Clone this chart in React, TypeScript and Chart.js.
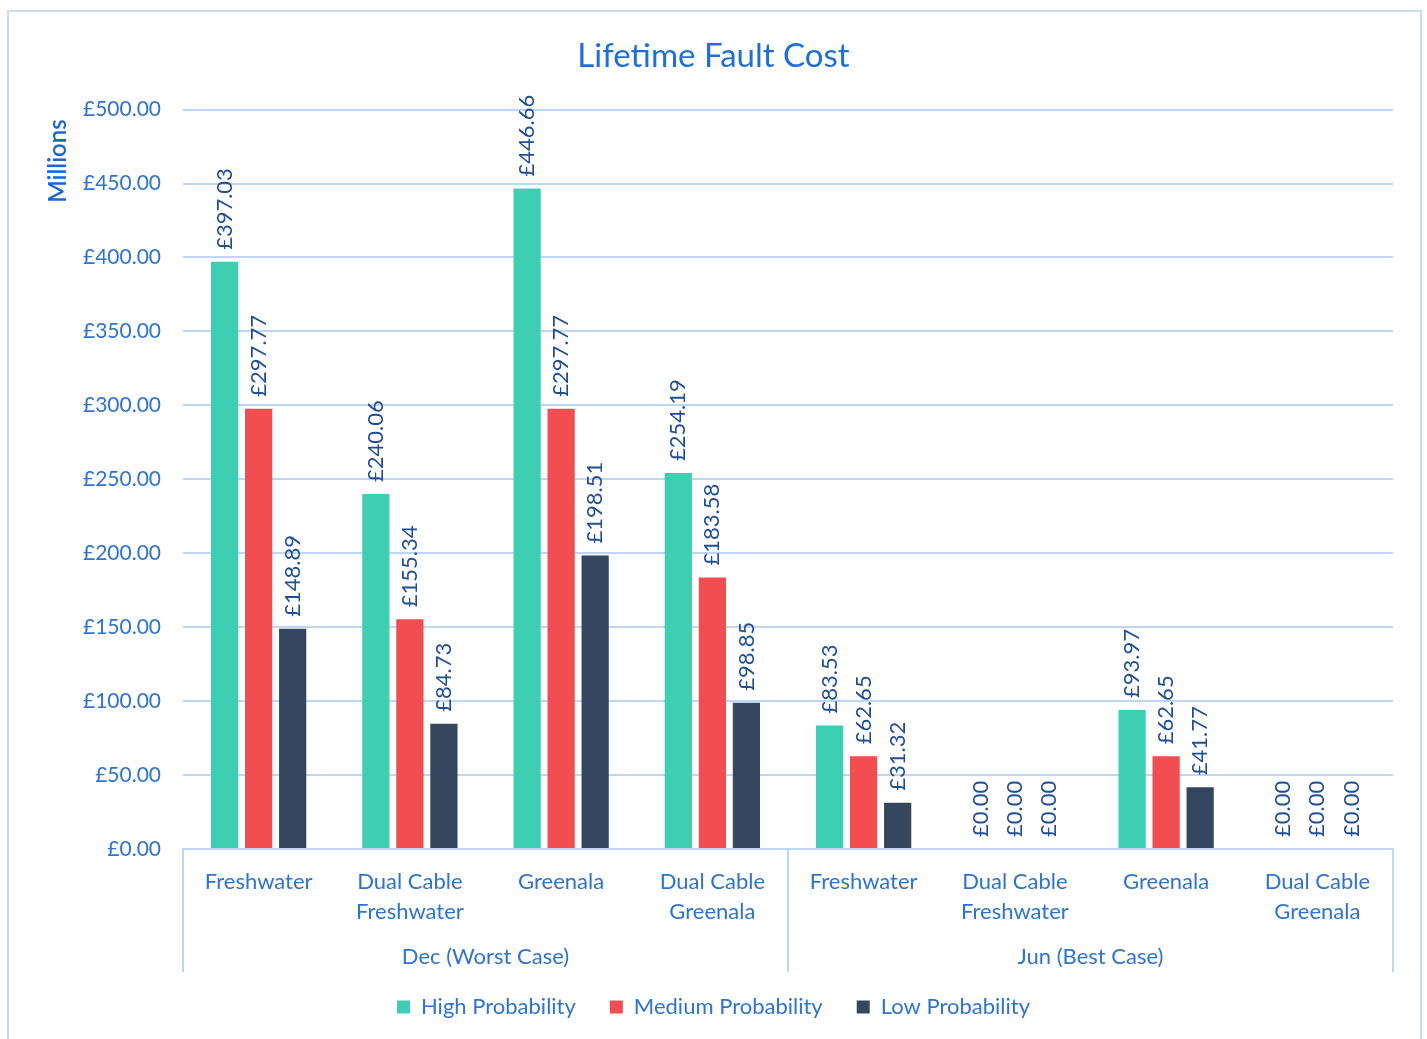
import React, { useEffect, useRef } from "react";
import { Chart, registerables } from "chart.js";

Chart.register(...registerables);

const categories: string[][] = [
  ["Freshwater"],
  ["Dual Cable", "Freshwater"],
  ["Greenala"],
  ["Dual Cable", "Greenala"],
  ["Freshwater"],
  ["Dual Cable", "Freshwater"],
  ["Greenala"],
  ["Dual Cable", "Greenala"],
];
const groupLabels = ["Dec (Worst Case)", "Jun (Best Case)"];
const groupSizes = [4, 4];
const seriesNames = ["High Probability", "Medium Probability", "Low Probability"];
const highValues = [397.03, 240.06, 446.66, 254.19, 83.53, 0, 93.97, 0];
const mediumValues = [297.77, 155.34, 297.77, 183.58, 62.65, 0, 62.65, 0];
const lowValues = [148.89, 84.73, 198.51, 98.85, 31.32, 0, 41.77, 0];
const yMin = 0;
const yMax = 500;
const yStep = 50;
const titleText = "Lifetime Fault Cost";
const yAxisTitle = "Millions";

const FONT = "Lato, 'Open Sans', sans-serif";
const AXIS_TEXT = "#2e74cf";
const LABEL_TEXT = "#1f4e96";
const GRID = "#bcd6f3";
const COLORS = ["#3ecfb3", "#f24d50", "#34475f"];

const fmt = (v: number) => "£" + v.toFixed(2);

const extrasPlugin = {
  id: "extras",
  beforeDraw(chart: any) {
    const ctx = chart.ctx;
    ctx.save();
    ctx.fillStyle = "#ffffff";
    ctx.fillRect(0, 0, chart.width, chart.height);
    ctx.strokeStyle = "#c8ddf5";
    ctx.lineWidth = 2;
    ctx.strokeRect(8, 11, 1413, 1040);
    ctx.restore();
  },
  afterDraw(chart: any) {
    const ctx = chart.ctx;
    const xs = chart.scales.x;
    const area = chart.chartArea;
    ctx.save();
    // y-axis title
    ctx.fillStyle = "#1c66d2";
    ctx.font = `600 24px ${FONT}`;
    ctx.translate(58, 161);
    ctx.rotate(-Math.PI / 2);
    ctx.textAlign = "center";
    ctx.textBaseline = "middle";
    ctx.fillText(yAxisTitle, 0, 0);
    ctx.restore();

    // group separators and labels
    ctx.save();
    ctx.strokeStyle = GRID;
    ctx.lineWidth = 2;
    const bounds: number[] = [xs.left];
    let idx = 0;
    groupSizes.forEach((n) => {
      idx += n;
      if (idx >= categories.length) bounds.push(xs.right);
      else bounds.push((xs.getPixelForValue(idx - 1) + xs.getPixelForValue(idx)) / 2);
    });
    bounds.forEach((bx) => {
      ctx.beginPath();
      ctx.moveTo(bx, area.bottom);
      ctx.lineTo(bx, 972);
      ctx.stroke();
    });
    ctx.fillStyle = AXIS_TEXT;
    ctx.font = `22px ${FONT}`;
    ctx.textAlign = "center";
    ctx.textBaseline = "middle";
    groupLabels.forEach((g, i) => {
      ctx.fillText(g, (bounds[i] + bounds[i + 1]) / 2, 957);
    });
    ctx.restore();
  },
  afterDatasetsDraw(chart: any) {
    const ctx = chart.ctx;
    ctx.save();
    ctx.fillStyle = LABEL_TEXT;
    ctx.font = `22px ${FONT}`;
    ctx.textAlign = "left";
    ctx.textBaseline = "middle";
    chart.data.datasets.forEach((ds: any, i: number) => {
      const meta = chart.getDatasetMeta(i);
      meta.data.forEach((bar: any, j: number) => {
        const v = ds.data[j];
        const { x, y } = bar.getProps(["x", "y"], true);
        ctx.save();
        ctx.translate(x, y - 12);
        ctx.rotate(-Math.PI / 2);
        ctx.fillText(fmt(v), 0, 0);
        ctx.restore();
      });
    });
    ctx.restore();
  },
};

export default function App() {
  const ref = useRef<HTMLCanvasElement | null>(null);
  useEffect(() => {
    if (!ref.current) return;
    const values = [highValues, mediumValues, lowValues];
    const chart = new Chart(ref.current, {
      type: "bar",
      data: {
        labels: categories,
        datasets: seriesNames.map((name, i) => ({
          label: name,
          data: values[i],
          backgroundColor: COLORS[i],
          categoryPercentage: 0.675,
          barPercentage: 0.8,
        })),
      },
      options: {
        animation: false,
        responsive: false,
        layout: { padding: { left: 34, right: 34, top: 0, bottom: 11 } },
        plugins: {
          title: {
            display: true,
            text: titleText,
            color: "#1f6fd8",
            font: { family: FONT, size: 33, weight: "normal", lineHeight: 1.2 },
            padding: { top: 37, bottom: 33 },
          },
          legend: {
            position: "bottom",
            labels: {
              color: AXIS_TEXT,
              font: { family: FONT, size: 22 },
              boxWidth: 13,
              boxHeight: 13,
              padding: 34,
            },
          },
          tooltip: { enabled: false },
        },
        scales: {
          x: {
            grid: { display: false, drawTicks: false },
            border: { display: true, color: GRID, width: 2 },
            ticks: {
              color: AXIS_TEXT,
              font: { family: FONT, size: 22, lineHeight: 1.36 },
              padding: 18,
              maxRotation: 0,
              autoSkip: false,
            },
            afterFit: (s: any) => {
              s.height = 113;
            },
          },
          y: {
            min: yMin,
            max: yMax,
            grid: { color: GRID, lineWidth: 2, drawTicks: false },
            border: { display: false },
            ticks: {
              stepSize: yStep,
              color: AXIS_TEXT,
              font: { family: FONT, size: 21 },
              padding: 22,
              callback: (v: any) => fmt(Number(v)),
            },
            afterFit: (s: any) => {
              s.width = 149;
            },
          },
        },
      },
      plugins: [extrasPlugin],
    });
    return () => chart.destroy();
  }, []);
  return (
    <div style={{ position: "fixed", left: 0, top: 0, width: 1427, height: 1039, background: "#fff" }}>
      <canvas ref={ref} width={1427} height={1039} />
    </div>
  );
}
